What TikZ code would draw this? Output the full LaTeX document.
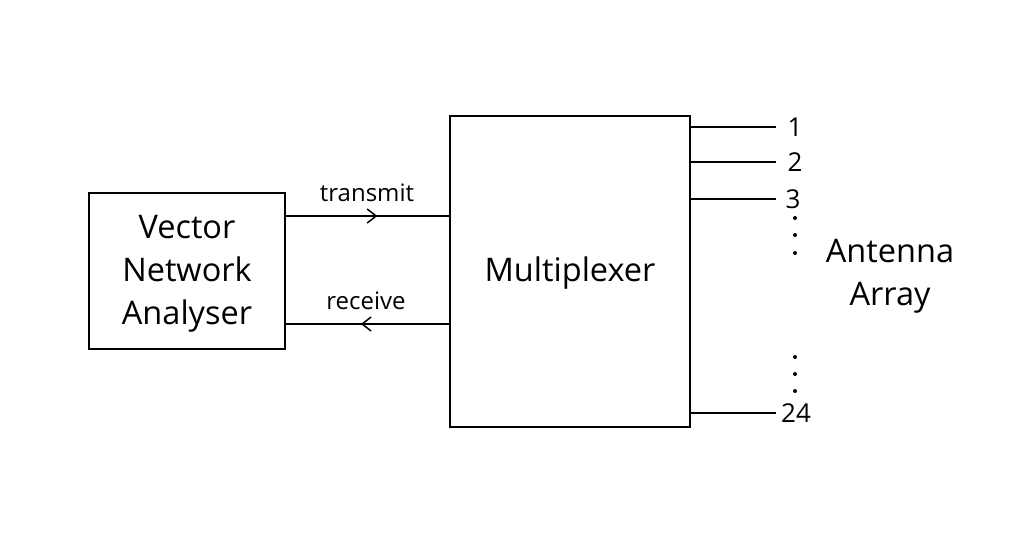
\documentclass[tikz,border=0pt]{standalone}
\usepackage{fontspec}
\setmainfont{Open Sans}
\usetikzlibrary{arrows.meta,decorations.markings}
\begin{document}
\begin{tikzpicture}[x=1pt,y=-1pt,line width=1.8pt,
  box/.style={draw,inner sep=0pt},
  big/.style={font=\fontsize{32.5}{43}\selectfont,align=center},
  small/.style={font=\fontsize{24}{28}\selectfont},
  num/.style={font=\fontsize{26}{28}\selectfont,inner sep=0pt},
  mid arrow/.style={postaction={decorate},decoration={markings,
    mark=at position #1 with {\arrow[line width=1.5pt]{Straight Barb[length=9pt,width=14pt]}}}},
  dot/.style={circle,fill,inner sep=0pt,minimum size=4pt}]
\useasboundingbox (0,0) rectangle (1024,550);
\node[box,minimum width=196pt,minimum height=156pt] (vna) at (187,271) {};
\node[big] (vnal) at (187,274) {Vector\\Network\\Analyser};
\node[box,minimum width=240pt,minimum height=311pt] (mux) at (570,271.5) {};
\node[big] (muxl) at (570,273) {Multiplexer};
% transmit / receive
\coordinate (vt) at (285,216);
\coordinate (mt) at (450,216);
\coordinate (vr) at (285,324);
\coordinate (mr) at (450,324);
\draw[mid arrow=0.56] (vt) -- (mt);
\draw[mid arrow=0.54] (mr) -- (vr);
\node[small] (tl) at (367,193) {transmit};
\node[small] (rl) at (366,301) {receive};
% outputs
\foreach \y/\n/\t/\x in {127/a/1/795,162/b/2/795,199/c/3/793,413/d/24/796}{
  \coordinate (s\n) at (690,\y);
  \coordinate (e\n) at (776,\y);
  \draw (s\n) -- (e\n);
  \node[num] (n\n) at (\x,\y) {\t};
}
\foreach \y [count=\i] in {218,235,253,357,374,391}{
  \node[dot] (d\i) at (795,\y) {};
}
\node[big,align=center] (ant) at (890,276) {Antenna\\Array};
\end{tikzpicture}
\end{document}
